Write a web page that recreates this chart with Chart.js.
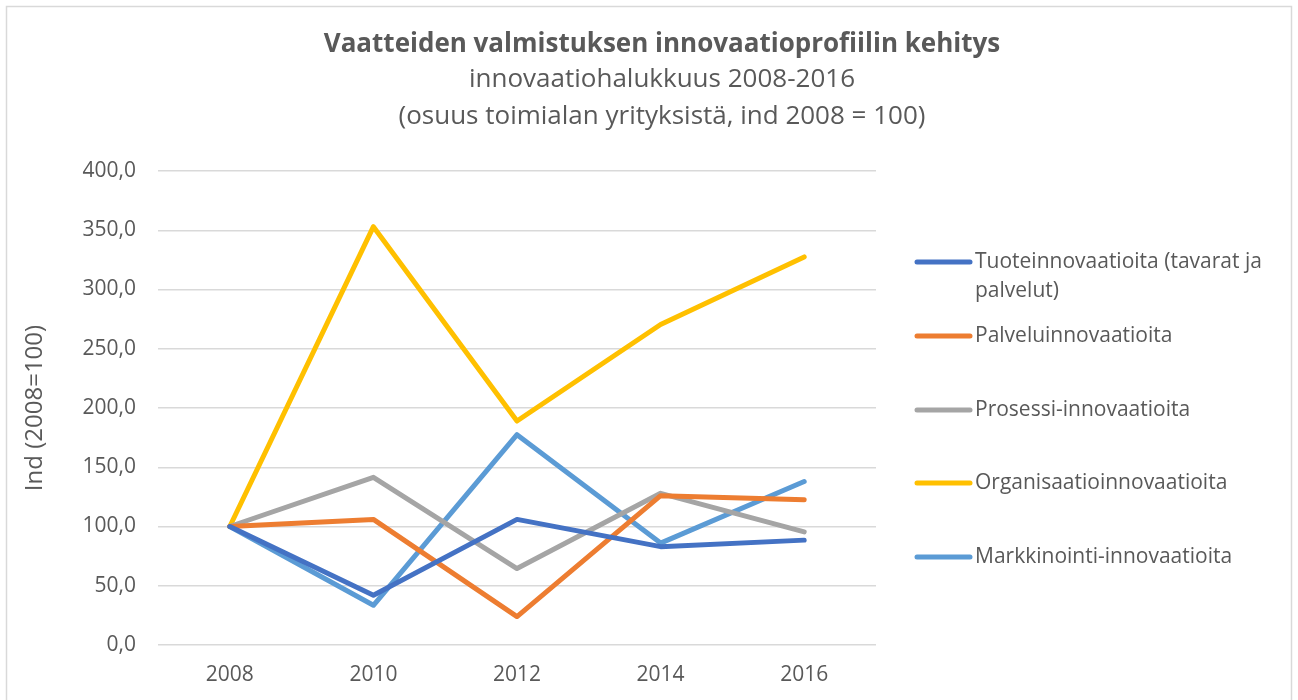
<!DOCTYPE html>
<html>
<head>
<meta charset="utf-8">
<script src="https://cdn.jsdelivr.net/npm/chart.js@4/dist/chart.umd.min.js"></script>
<style>
  html, body { margin: 0; padding: 0; background: #ffffff; }
  #wrap { width: 1298px; height: 700px; }
</style>
</head>
<body>
<div id="wrap"><canvas id="c" width="1298" height="700"></canvas></div>
<script>
const categories = ['2008', '2010', '2012', '2014', '2016'];
const tuoteinnovaatioita = [100, 42, 106, 83, 88.5];
const palveluinnovaatioita = [100, 106, 24, 126, 122.5];
const prosessiInnovaatioita = [100, 141.5, 64.5, 128, 95.5];
const organisaatioinnovaatioita = [100, 353, 189, 270.5, 327.5];
const markkinointiInnovaatioita = [100, 33.5, 177.5, 86, 138];
const seriesNames = [
  ['Tuoteinnovaatioita (tavarat ja', 'palvelut)'],
  ['Palveluinnovaatioita'],
  ['Prosessi-innovaatioita'],
  ['Organisaatioinnovaatioita'],
  ['Markkinointi-innovaatioita']
];
const titleText = 'Vaatteiden valmistuksen innovaatioprofiilin kehitys';
const subtitleLines = ['innovaatiohalukkuus 2008-2016', '(osuus toimialan yrityksistä, ind 2008 = 100)'];
const yTicks = [0, 50, 100, 150, 200, 250, 300, 350, 400];

const FONT = '"Open Sans", "Noto Sans", sans-serif';
const TXT = '#595959';
const colors = ['#4472C4', '#ED7D31', '#A5A5A5', '#FFC000', '#5B9BD5'];
const seriesData = [tuoteinnovaatioita, palveluinnovaatioita, prosessiInnovaatioita, organisaatioinnovaatioita, markkinointiInnovaatioita];

const bgPlugin = {
  id: 'bg',
  beforeDraw(chart) {
    const ctx = chart.ctx;
    ctx.save();
    ctx.fillStyle = '#ffffff';
    ctx.fillRect(0, 0, chart.width, chart.height);
    ctx.strokeStyle = '#d9d9d9';
    ctx.lineWidth = 1.5;
    ctx.strokeRect(6.5, 6.5, chart.width - 13, chart.height + 20);
    ctx.restore();
  }
};

const titlePlugin = {
  id: 'customTitle',
  afterDraw(chart) {
    const ctx = chart.ctx;
    const cx = 662;
    ctx.save();
    ctx.fillStyle = TXT;
    ctx.textAlign = 'center';
    ctx.textBaseline = 'middle';
    ctx.font = 'bold 26px ' + FONT;
    ctx.fillText(titleText, cx, 45);
    ctx.font = '26px ' + FONT;
    subtitleLines.forEach((t, i) => ctx.fillText(t, cx, 80 + i * 37));
    ctx.restore();
  }
};

const legendPlugin = {
  id: 'customLegend',
  afterDraw(chart) {
    const ctx = chart.ctx;
    const area = chart.chartArea;
    const x0 = area.right + 41;
    const rowY = [262, 336, 410, 483, 557];
    ctx.save();
    ctx.font = '21px ' + FONT;
    ctx.textBaseline = 'middle';
    ctx.textAlign = 'left';
    chart.data.datasets.forEach((ds, i) => {
      const y = rowY[i];
      ctx.strokeStyle = ds.borderColor;
      ctx.lineWidth = 5;
      ctx.lineCap = 'round';
      ctx.beginPath();
      ctx.moveTo(x0, y);
      ctx.lineTo(x0 + 53, y);
      ctx.stroke();
      ctx.fillStyle = TXT;
      ds.legendLines.forEach((t, k) => ctx.fillText(t, x0 + 58, y + k * 29));
    });
    ctx.restore();
  }
};

new Chart(document.getElementById('c'), {
  type: 'line',
  data: {
    labels: categories,
    datasets: seriesData.map((d, i) => ({
      label: seriesNames[i].join(' '),
      legendLines: seriesNames[i],
      data: d,
      borderColor: colors[i],
      backgroundColor: colors[i],
      borderWidth: 5,
      pointRadius: 0,
      pointHoverRadius: 0,
      tension: 0,
      borderCapStyle: 'round',
      borderJoinStyle: 'round',
      fill: false
    }))
  },
  options: {
    responsive: false,
    animation: false,
    devicePixelRatio: 1,
    layout: { padding: { left: 10, right: 422, top: 171, bottom: 0 } },
    plugins: {
      legend: { display: false },
      tooltip: { enabled: false },
      title: { display: false },
      subtitle: { display: false }
    },
    scales: {
      x: {
        offset: true,
        grid: { display: false, drawTicks: false },
        border: { display: false },
        ticks: { color: TXT, font: { family: FONT, size: 21 }, padding: 17 },
        afterFit(scale) { scale.height = 55; }
      },
      y: {
        min: 0,
        max: 400,
        afterBuildTicks(scale) { scale.ticks = yTicks.map(v => ({ value: v })); },
        grid: { color: '#d9d9d9', lineWidth: 1.5, drawTicks: false },
        border: { display: false },
        ticks: {
          color: TXT,
          font: { family: FONT, size: 21 },
          padding: 22,
          callback: v => v.toFixed(1).replace('.', ',')
        },
        title: {
          display: true,
          text: 'Ind (2008=100)',
          color: TXT,
          font: { family: FONT, size: 24 },
          padding: { top: 11, bottom: 0 }
        },
        afterFit(scale) { scale.width = 148; }
      }
    }
  },
  plugins: [bgPlugin, titlePlugin, legendPlugin]
});
</script>
</body>
</html>
